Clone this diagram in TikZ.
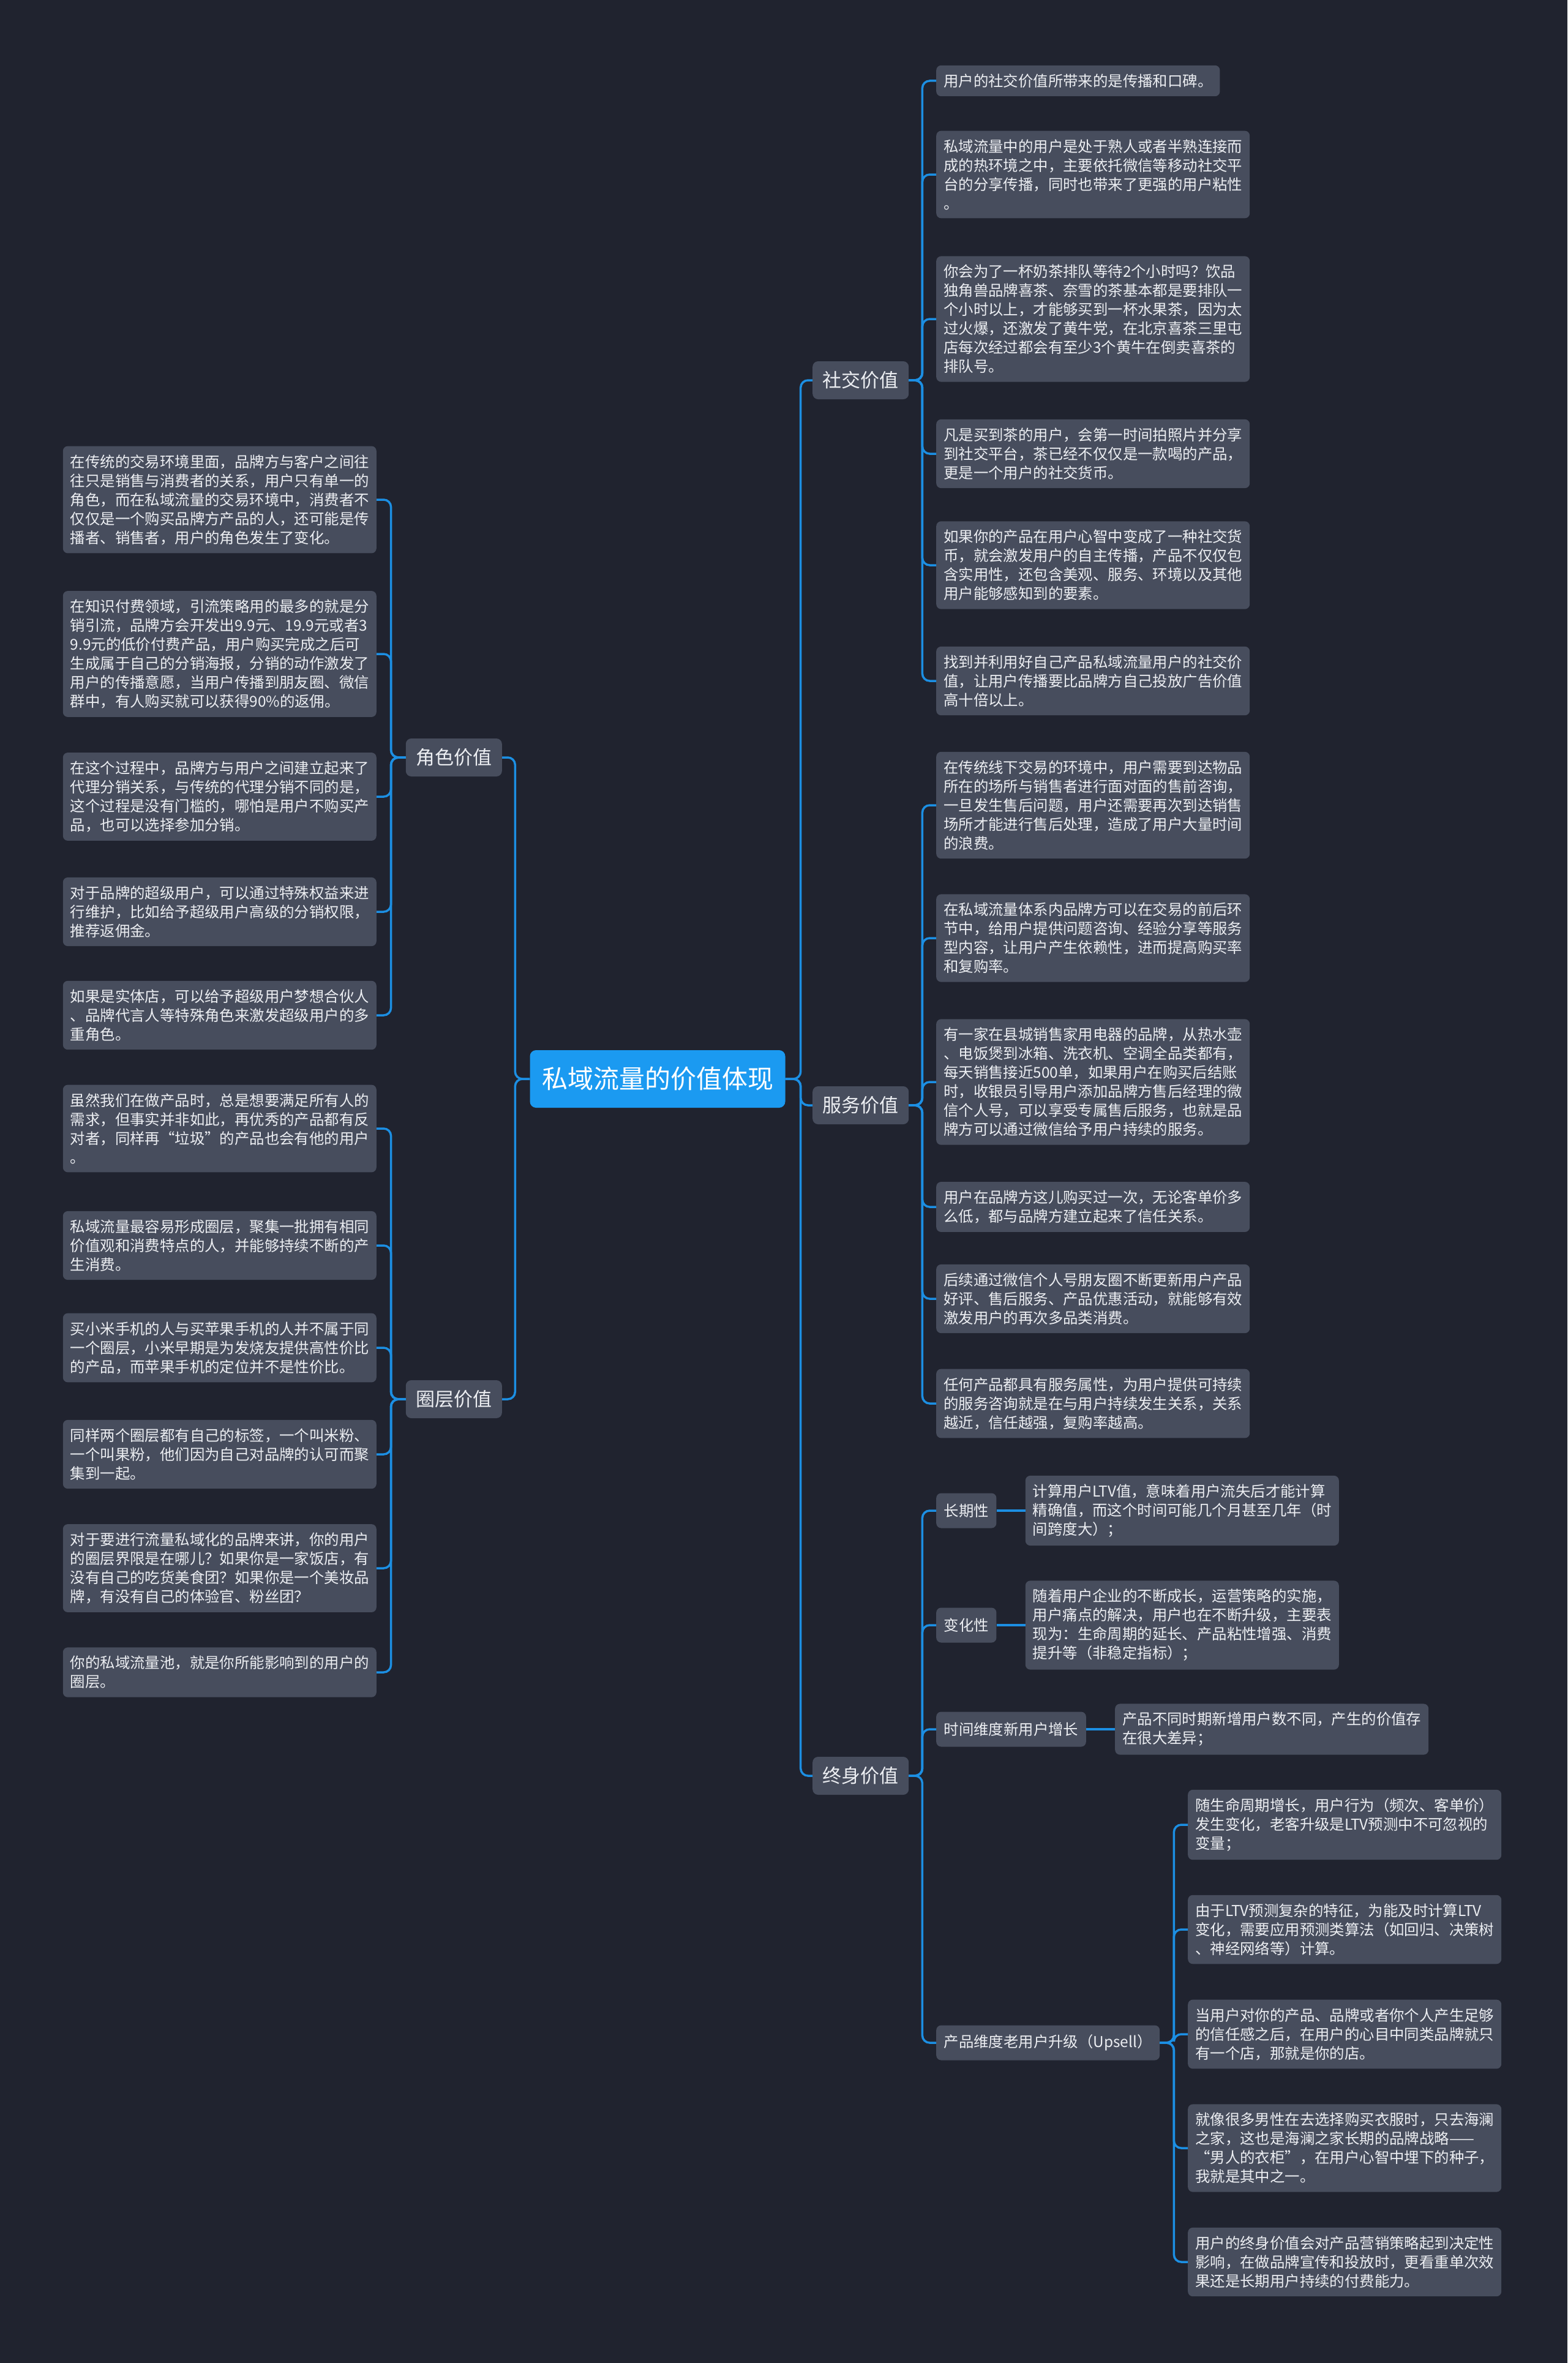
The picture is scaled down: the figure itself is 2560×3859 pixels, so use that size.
\documentclass[tikz,border=0pt]{standalone}
\usepackage{fontspec}
\setmainfont{Noto Sans CJK SC}
\usetikzlibrary{positioning}
\definecolor{bgdark}{HTML}{20232F}
\definecolor{boxgray}{HTML}{474D5D}
\definecolor{linkblue}{HTML}{1C8FE3}
\definecolor{coreblue}{HTML}{1B9AF1}
\definecolor{txtlight}{HTML}{ECEEF2}
\begin{document}
\begin{tikzpicture}[x=1pt, y=-1pt,
    core/.style={fill=coreblue, rounded corners=10pt, text=white, font=\fontsize{42}{50}\selectfont, inner xsep=19.5pt, minimum height=94pt},
    topic/.style={fill=boxgray, rounded corners=9pt, text=txtlight, font=\fontsize{31}{37}\selectfont, inner xsep=16.5pt, minimum height=62pt},
    sub/.style={fill=boxgray, rounded corners=8pt, text=txtlight, font=\fontsize{24.4}{31}\selectfont, inner xsep=12.5pt, minimum height=57pt},
    leaf/.style={fill=boxgray, rounded corners=8pt, text=txtlight, font=\fontsize{24.4}{31}\selectfont, align=left, inner xsep=12pt, inner ysep=13.8pt},
    link/.style={draw=linkblue, line width=3.5pt, rounded corners=12pt}]
    % 背景
    \fill[bgdark] (0,0) rectangle (2560,3859);
    \useasboundingbox (0,0) rectangle (2560,3859);

    % 中心主题
    \node[core] (core) at (1074,1762) {私域流量的价值体现};

    % 一级分支
    \node[topic, anchor=west] (social) at (1327,621) {社交价值};
    \node[topic, anchor=west] (service) at (1327,1805) {服务价值};
    \node[topic, anchor=west] (lifetime) at (1327,2900) {终身价值};
    \node[topic, anchor=east] (role) at (820,1237) {角色价值};
    \node[topic, anchor=east] (ring) at (820,2285) {圈层价值};

    % 角色价值
    \node[leaf, anchor=east] (ro1) at (615,816) {在传统的交易环境里面，品牌方与客户之间往\\往只是销售与消费者的关系，用户只有单一的\\角色，而在私域流量的交易环境中，消费者不\\仅仅是一个购买品牌方产品的人，还可能是传\\播者、销售者，用户的角色发生了变化。};
    \node[leaf, anchor=east] (ro2) at (615,1068) {在知识付费领域，引流策略用的最多的就是分\\销引流，品牌方会开发出9.9元、19.9元或者3\\9.9元的低价付费产品，用户购买完成之后可\\生成属于自己的分销海报，分销的动作激发了\\用户的传播意愿，当用户传播到朋友圈、微信\\群中，有人购买就可以获得90\%的返佣。};
    \node[leaf, anchor=east] (ro3) at (615,1301) {在这个过程中，品牌方与用户之间建立起来了\\代理分销关系，与传统的代理分销不同的是，\\这个过程是没有门槛的，哪怕是用户不购买产\\品，也可以选择参加分销。};
    \node[leaf, anchor=east] (ro4) at (615,1489) {对于品牌的超级用户，可以通过特殊权益来进\\行维护，比如给予超级用户高级的分销权限，\\推荐返佣金。};
    \node[leaf, anchor=east] (ro5) at (615,1658) {如果是实体店，可以给予超级用户梦想合伙人\\、品牌代言人等特殊角色来激发超级用户的多\\重角色。};

    % 圈层价值
    \node[leaf, anchor=east] (ri1) at (615,1843) {虽然我们在做产品时，总是想要满足所有人的\\需求，但事实并非如此，再优秀的产品都有反\\对者，同样再“垃圾”的产品也会有他的用户\\。};
    \node[leaf, anchor=east] (ri2) at (615,2034) {私域流量最容易形成圈层，聚集一批拥有相同\\价值观和消费特点的人，并能够持续不断的产\\生消费。};
    \node[leaf, anchor=east] (ri3) at (615,2201) {买小米手机的人与买苹果手机的人并不属于同\\一个圈层，小米早期是为发烧友提供高性价比\\的产品，而苹果手机的定位并不是性价比。};
    \node[leaf, anchor=east] (ri4) at (615,2375) {同样两个圈层都有自己的标签，一个叫米粉、\\一个叫果粉，他们因为自己对品牌的认可而聚\\集到一起。};
    \node[leaf, anchor=east] (ri5) at (615,2561) {对于要进行流量私域化的品牌来讲，你的用户\\的圈层界限是在哪儿？如果你是一家饭店，有\\没有自己的吃货美食团？如果你是一个美妆品\\牌，有没有自己的体验官、粉丝团？};
    \node[leaf, anchor=east] (ri6) at (615,2731) {你的私域流量池，就是你所能影响到的用户的\\圈层。};

    % 社交价值
    \node[leaf, anchor=west] (so1) at (1529,132) {用户的社交价值所带来的是传播和口碑。};
    \node[leaf, anchor=west] (so2) at (1529,285) {私域流量中的用户是处于熟人或者半熟连接而\\成的热环境之中，主要依托微信等移动社交平\\台的分享传播，同时也带来了更强的用户粘性\\。};
    \node[leaf, anchor=west] (so3) at (1529,521) {你会为了一杯奶茶排队等待2个小时吗？饮品\\独角兽品牌喜茶、奈雪的茶基本都是要排队一\\个小时以上，才能够买到一杯水果茶，因为太\\过火爆，还激发了黄牛党，在北京喜茶三里屯\\店每次经过都会有至少3个黄牛在倒卖喜茶的\\排队号。};
    \node[leaf, anchor=west] (so4) at (1529,741) {凡是买到茶的用户，会第一时间拍照片并分享\\到社交平台，茶已经不仅仅是一款喝的产品，\\更是一个用户的社交货币。};
    \node[leaf, anchor=west] (so5) at (1529,923) {如果你的产品在用户心智中变成了一种社交货\\币，就会激发用户的自主传播，产品不仅仅包\\含实用性，还包含美观、服务、环境以及其他\\用户能够感知到的要素。};
    \node[leaf, anchor=west] (so6) at (1529,1112) {找到并利用好自己产品私域流量用户的社交价\\值，让用户传播要比品牌方自己投放广告价值\\高十倍以上。};

    % 服务价值
    \node[leaf, anchor=west] (sv1) at (1529,1315) {在传统线下交易的环境中，用户需要到达物品\\所在的场所与销售者进行面对面的售前咨询，\\一旦发生售后问题，用户还需要再次到达销售\\场所才能进行售后处理，造成了用户大量时间\\的浪费。};
    \node[leaf, anchor=west] (sv2) at (1529,1532) {在私域流量体系内品牌方可以在交易的前后环\\节中，给用户提供问题咨询、经验分享等服务\\型内容，让用户产生依赖性，进而提高购买率\\和复购率。};
    \node[leaf, anchor=west] (sv3) at (1529,1767) {有一家在县城销售家用电器的品牌，从热水壶\\、电饭煲到冰箱、洗衣机、空调全品类都有，\\每天销售接近500单，如果用户在购买后结账\\时，收银员引导用户添加品牌方售后经理的微\\信个人号，可以享受专属售后服务，也就是品\\牌方可以通过微信给予用户持续的服务。};
    \node[leaf, anchor=west] (sv4) at (1529,1971) {用户在品牌方这儿购买过一次，无论客单价多\\么低，都与品牌方建立起来了信任关系。};
    \node[leaf, anchor=west] (sv5) at (1529,2121) {后续通过微信个人号朋友圈不断更新用户产品\\好评、售后服务、产品优惠活动，就能够有效\\激发用户的再次多品类消费。};
    \node[leaf, anchor=west] (sv6) at (1529,2292) {任何产品都具有服务属性，为用户提供可持续\\的服务咨询就是在与用户持续发生关系，关系\\越近，信任越强，复购率越高。};

    % 终身价值
    \node[sub, anchor=west] (longterm) at (1529,2467) {长期性};
    \node[sub, anchor=west] (change) at (1529,2654) {变化性};
    \node[sub, anchor=west] (newgrow) at (1529,2824) {时间维度新用户增长};
    \node[sub, anchor=west] (upsell) at (1529,3336) {产品维度老用户升级（Upsell）};
    \node[leaf, right=47pt of longterm] (lt1) {计算用户LTV值，意味着用户流失后才能计算\\精确值，而这个时间可能几个月甚至几年（时\\间跨度大）；};
    \node[leaf, right=47pt of change] (ch1) {随着用户企业的不断成长，运营策略的实施，\\用户痛点的解决，用户也在不断升级，主要表\\现为：生命周期的延长、产品粘性增强、消费\\提升等（非稳定指标）；};
    \node[leaf, right=47pt of newgrow] (ng1) {产品不同时期新增用户数不同，产生的价值存\\在很大差异；};
    \node[leaf, anchor=west] (up1) at (1940,2980) {随生命周期增长，用户行为（频次、客单价）\\发生变化，老客升级是LTV预测中不可忽视的\\变量；};
    \node[leaf, anchor=west] (up2) at (1940,3151) {由于LTV预测复杂的特征，为能及时计算LTV\\变化，需要应用预测类算法（如回归、决策树\\、神经网络等）计算。};
    \node[leaf, anchor=west] (up3) at (1940,3322) {当用户对你的产品、品牌或者你个人产生足够\\的信任感之后，在用户的心目中同类品牌就只\\有一个店，那就是你的店。};
    \node[leaf, anchor=west] (up4) at (1940,3508) {就像很多男性在去选择购买衣服时，只去海澜\\之家，这也是海澜之家长期的品牌战略——\\“男人的衣柜”，在用户心智中埋下的种子，\\我就是其中之一。};
    \node[leaf, anchor=west] (up5) at (1940,3694) {用户的终身价值会对产品营销策略起到决定性\\影响，在做品牌宣传和投放时，更看重单次效\\果还是长期用户持续的付费能力。};

    % 连线
    \foreach \n in {social,service,lifetime}
        \draw[link] (core.east) -- ++(25,0) |- (\n.west);
    \foreach \n in {role,ring}
        \draw[link] (core.west) -- ++(-24,0) |- (\n.east);
    \foreach \i in {1,...,5}
        \draw[link] (role.west) -- ++(-24,0) |- (ro\i.east);
    \foreach \i in {1,...,6} {
        \draw[link] (ring.west) -- ++(-24,0) |- (ri\i.east);
        \draw[link] (social.east) -- ++(22,0) |- (so\i.west);
        \draw[link] (service.east) -- ++(22,0) |- (sv\i.west);
    }
    \foreach \n in {longterm,change,newgrow,upsell}
        \draw[link] (lifetime.east) -- ++(22,0) |- (\n.west);
    \foreach \a/\b in {longterm/lt1, change/ch1, newgrow/ng1}
        \draw[link] (\a.east) -- (\b.west);
    \foreach \i in {1,...,5}
        \draw[link] (upsell.east) -- ++(23,0) |- (up\i.west);
\end{tikzpicture}
\end{document}
